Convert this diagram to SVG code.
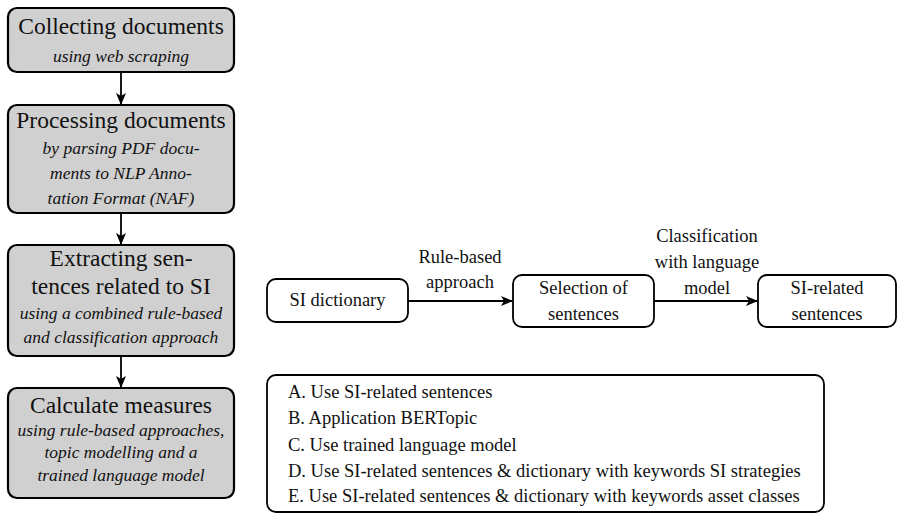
<svg xmlns="http://www.w3.org/2000/svg" width="900" height="513" viewBox="0 0 900 513">
<style>
text{font-family:"Liberation Serif",serif;fill:#111}
.step rect{fill:#d0d0d0;stroke:#000;stroke-width:2.2}
.node rect{fill:#fff;stroke:#000;stroke-width:1.8}
.t{text-anchor:middle}
.h{font-size:23.5px}
.i{font-size:17.5px;font-style:italic}
.r{font-size:18.5px}
.l{font-size:18.5px}
.c{stroke:#000;stroke-width:1.8;fill:none}
</style>
<defs>
<marker id="ah" viewBox="0 0 12 10" refX="11" refY="5" markerWidth="12" markerHeight="10" markerUnits="userSpaceOnUse" orient="auto">
<path d="M0,0 L12,5 L0,10 L3,5 Z" fill="#000"/>
</marker>
</defs>
<g id="collect" class="step">
<rect x="8" y="8" width="226" height="64" rx="9"/>
<text class="t h" x="121" y="34">Collecting documents</text>
<text class="t i" x="121" y="62">using web scraping</text>
</g>
<g id="process" class="step">
<rect x="8" y="105" width="226" height="108" rx="9"/>
<text class="t h" x="121" y="128">Processing documents</text>
<text class="t i" x="121" y="154">by parsing PDF docu-</text>
<text class="t i" x="121" y="179">ments to NLP Anno-</text>
<text class="t i" x="121" y="204">tation Format (NAF)</text>
</g>
<g id="extract" class="step">
<rect x="8" y="245" width="226" height="111" rx="9"/>
<text class="t h" x="121" y="266">Extracting sen-</text>
<text class="t h" x="121" y="294">tences related to SI</text>
<text class="t i" x="121" y="319">using a combined rule-based</text>
<text class="t i" x="121" y="343">and classification approach</text>
</g>
<g id="measures" class="step">
<rect x="8" y="388" width="226" height="110" rx="9"/>
<text class="t h" x="121" y="413">Calculate measures</text>
<text class="t i" x="121" y="436">using rule-based approaches,</text>
<text class="t i" x="121" y="458">topic modelling and a</text>
<text class="t i" x="121" y="481">trained language model</text>
</g>
<g id="dict" class="node">
<rect x="267" y="279" width="141" height="43" rx="9"/>
<text class="t r" x="337.5" y="306">SI dictionary</text>
</g>
<g id="selection" class="node">
<rect x="513" y="275" width="141" height="52" rx="9"/>
<text class="t r" x="583.5" y="294">Selection of</text>
<text class="t r" x="583.5" y="320">sentences</text>
</g>
<g id="related" class="node">
<rect x="758" y="275" width="138" height="52" rx="9"/>
<text class="t r" x="827" y="294">SI-related</text>
<text class="t r" x="827" y="320">sentences</text>
</g>
<g id="measurelist" class="node">
<rect x="267" y="375" width="557" height="137" rx="9"/>
<text class="l" x="288" y="398">A. Use SI-related sentences</text>
<text class="l" x="288" y="424">B. Application BERTopic</text>
<text class="l" x="288" y="451">C. Use trained language model</text>
<text class="l" x="288" y="477">D. Use SI-related sentences &amp; dictionary with keywords SI strategies</text>
<text class="l" x="288" y="502">E. Use SI-related sentences &amp; dictionary with keywords asset classes</text>
</g>
<g id="connectors">
<line class="c" x1="121" y1="72" x2="121" y2="104" marker-end="url(#ah)"/>
<line class="c" x1="121" y1="213" x2="121" y2="244" marker-end="url(#ah)"/>
<line class="c" x1="121" y1="356" x2="121" y2="387" marker-end="url(#ah)"/>
<line class="c" x1="408" y1="301" x2="512" y2="301" marker-end="url(#ah)"/>
<line class="c" x1="654" y1="301" x2="757" y2="301" marker-end="url(#ah)"/>
<text class="t r" x="460" y="263">Rule-based</text>
<text class="t r" x="460" y="288">approach</text>
<text class="t r" x="707" y="242">Classification</text>
<text class="t r" x="707" y="268">with language</text>
<text class="t r" x="707" y="294">model</text>
</g>
</svg>
